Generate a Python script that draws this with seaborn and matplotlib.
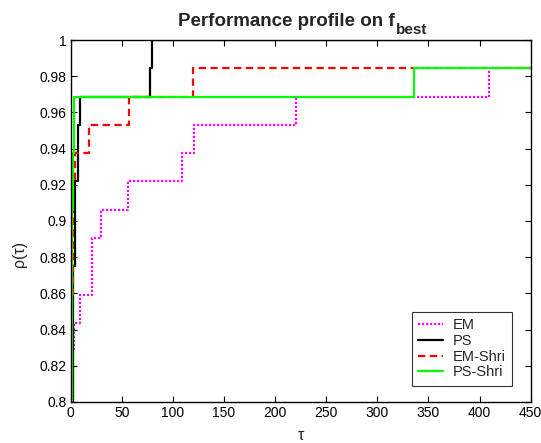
import matplotlib
matplotlib.use("Agg")
import matplotlib.pyplot as plt
import seaborn as sns
import pandas as pd

sns.set_theme(style="white")
plt.rcParams['font.family'] = ['Liberation Sans', 'DejaVu Sans']

solvers = ["EM", "PS", "EM-Shri", "PS-Shri"]

em_tau = [1, 2, 3.3, 9, 21, 29.5, 56.5, 108.5, 121, 220.5, 409.5, 450]
em_rho = [0.78125, 0.828125, 0.84375, 0.859375, 0.890625, 0.90625, 0.921875,
          0.9375, 0.953125, 0.96875, 0.984375, 0.984375]

ps_tau = [1, 2, 4.2, 7.4, 9.1, 77.6, 79.5, 450]
ps_rho = [0.78125, 0.875, 0.921875, 0.953125, 0.96875, 0.984375, 1.0, 1.0]

emshri_tau = [1, 1.5, 2.5, 4.2, 18.2, 57.3, 119.4, 450]
emshri_rho = [0.78125, 0.859375, 0.921875, 0.9375, 0.953125, 0.96875, 0.984375, 0.984375]

psshri_tau = [1, 1.5, 2.5, 3.5, 336, 450]
psshri_rho = [0.78125, 0.90625, 0.9375, 0.96875, 0.984375, 0.984375]

series = {
    "EM": (em_tau, em_rho),
    "PS": (ps_tau, ps_rho),
    "EM-Shri": (emshri_tau, emshri_rho),
    "PS-Shri": (psshri_tau, psshri_rho),
}
rows = []
for name in solvers:
    t, r = series[name]
    for a, b in zip(t, r):
        rows.append({"tau": a, "rho": b, "solver": name})
df = pd.DataFrame(rows)

palette = {"EM": "#ff00ff", "PS": "#000000", "EM-Shri": "#ff0000", "PS-Shri": "#00ff00"}
dashes = {"EM": (1, 0.8), "PS": "", "EM-Shri": (3.3, 2), "PS-Shri": ""}

fig = plt.figure(figsize=(5.41, 4.43), dpi=100)
ax = fig.add_axes([0.1307, 0.0926, 0.8503, 0.8171])

sns.lineplot(data=df, x="tau", y="rho", hue="solver", style="solver",
             hue_order=solvers, style_order=solvers, palette=palette,
             dashes=dashes, drawstyle="steps-post", estimator=None,
             linewidth=1.6, ax=ax, legend=True)

ax.set_xlim(0, 450)
ax.set_ylim(0.8, 1.0)
ax.set_xticks(range(0, 451, 50))
ax.set_yticks([0.8, 0.82, 0.84, 0.86, 0.88, 0.9, 0.92, 0.94, 0.96, 0.98, 1.0])
ax.set_yticklabels(["0.8", "0.82", "0.84", "0.86", "0.88", "0.9", "0.92",
                    "0.94", "0.96", "0.98", "1"])
ax.tick_params(direction="in", length=4, width=0.8, labelsize=10,
               top=True, right=True, bottom=True, left=True, colors="black", pad=3)
for s in ax.spines.values():
    s.set_color("black")
    s.set_linewidth(1.0)

ax.set_xlabel("τ", fontsize=11.5, labelpad=6)
ax.set_ylabel("ρ(τ)", fontsize=11.5)
ax.yaxis.set_label_coords(-0.096, 0.41)

# title with a large bold subscript
fig.text(395 / 541, 1 - 25.7 / 443, "Performance profile on f", ha="right",
         va="baseline", fontsize=13.5, fontweight="bold")
fig.text(395.5 / 541, 1 - 34.3 / 443, "best", ha="left", va="baseline",
         fontsize=11, fontweight="bold")

leg = ax.legend(loc="lower right", bbox_to_anchor=(0.9594, 0.0442),
                borderaxespad=0, fontsize=10.5, frameon=True, fancybox=False,
                edgecolor="black", handlelength=1.7, labelspacing=0.12,
                borderpad=0.45, handletextpad=0.65)
leg.get_frame().set_linewidth(0.8)

fig.savefig("out.png", dpi=100)
